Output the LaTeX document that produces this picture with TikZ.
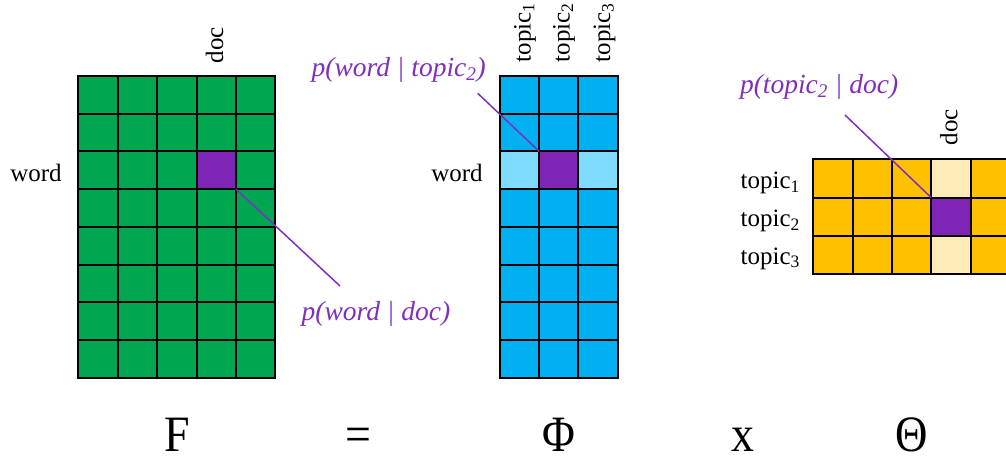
\documentclass[tikz,border=0pt]{standalone}
\usepackage{fontspec}
\usepackage{graphicx}
\setmainfont{Liberation Serif}
\definecolor{gfill}{HTML}{00A650}
\definecolor{bfill}{HTML}{00B0F0}
\definecolor{lbfill}{HTML}{80DCFF}
\definecolor{ofill}{HTML}{FFC000}
\definecolor{lofill}{HTML}{FFEBB8}
\definecolor{pcell}{HTML}{7E25B6}
\definecolor{ptext}{HTML}{7F2FC0}
\begin{document}
\begin{tikzpicture}[x=1pt,y=-1pt,
  cell/.style={minimum width=39.4pt, minimum height=37.7pt, inner sep=0pt, outer sep=0pt},
  ocell/.style={cell, minimum width=39.3pt, minimum height=38.3pt},
  grid line/.style={draw=black, line width=2pt},
  lbl/.style={font=\fontsize{25}{30}\selectfont, inner sep=0pt, outer sep=0pt},
  plbl/.style={font=\fontsize{27.5}{32}\selectfont\itshape, text=ptext, inner sep=0pt, outer sep=0pt},
  big/.style={font=\fontsize{51}{60}\selectfont, inner sep=0pt, outer sep=0pt, anchor=base, text depth=0pt},
  pline/.style={draw=ptext, line width=1.5pt}
]
\useasboundingbox (0,0) rectangle (1006,459);
% F matrix (green)
\foreach \r in {1,...,8}{
  \foreach \c in {1,...,5}{
    \def\cc{gfill}
    \ifnum\r=3 \ifnum\c=4 \def\cc{pcell}\fi\fi
    \node[cell, fill=\cc] (g-\r-\c) at ({78.3+39.4*(\c-0.5)}, {76+37.7*(\r-0.5)}) {};
  }
}
% Phi matrix (blue)
\foreach \r in {1,...,8}{
  \foreach \c in {1,...,3}{
    \def\cc{bfill}
    \ifnum\r=3 \def\cc{lbfill}\ifnum\c=2 \def\cc{pcell}\fi\fi
    \node[cell, minimum width=39.2pt, fill=\cc] (b-\r-\c) at ({500+39.2*(\c-0.5)}, {76+37.7*(\r-0.5)}) {};
  }
}
% Theta matrix (orange)
\foreach \r in {1,...,3}{
  \foreach \c in {1,...,5}{
    \def\cc{ofill}
    \ifnum\c=4 \def\cc{lofill}\ifnum\r=2 \def\cc{pcell}\fi\fi
    \node[ocell, fill=\cc] (o-\r-\c) at ({813.3+39.3*(\c-0.5)}, {159.3+38.3*(\r-0.5)}) {};
  }
}
% grid lines
\foreach \r in {1,...,8}{
  \foreach \c in {1,...,5}{
    \draw[grid line] (g-\r-\c.north west) rectangle (g-\r-\c.south east);
  }
  \foreach \c in {1,...,3}{
    \draw[grid line] (b-\r-\c.north west) rectangle (b-\r-\c.south east);
  }
}
\foreach \r in {1,...,3}{
  \foreach \c in {1,...,5}{
    \draw[grid line] (o-\r-\c.north west) rectangle (o-\r-\c.south east);
  }
}
% axis labels
\node[lbl, rotate=90, anchor=base west] (gdoc) at (223,63) {doc};
\node[lbl, anchor=base] (gword) at (36,181.7) {word};
\node[lbl, anchor=base] (bword) at (457,181.7) {word};
\node[lbl, rotate=90, anchor=base west] (bt1) at (530.7,62) {topic\textsubscript{1}};
\node[lbl, rotate=90, anchor=base west] (bt2) at (569.5,62) {topic\textsubscript{2}};
\node[lbl, rotate=90, anchor=base west] (bt3) at (610,62) {topic\textsubscript{3}};
\node[lbl, rotate=90, anchor=base west] (odoc) at (957.3,145) {doc};
\node[lbl, anchor=base west] (ot1) at (740.7,188.3) {topic\textsubscript{1}};
\node[lbl, anchor=base west] (ot2) at (740.7,226.7) {topic\textsubscript{2}};
\node[lbl, anchor=base west] (ot3) at (740.7,264) {topic\textsubscript{3}};
% probability labels
\node[plbl, anchor=base west] (pwd) at (301.7,320) {p(word | doc)};
\node[plbl, anchor=base west] (pwt) at (311.7,76) {p(word | topic\textsubscript{2})};
\node[plbl, anchor=base west] (ptd) at (740,93.3) {p(topic\textsubscript{2} | doc)};
\coordinate (cwd) at (340,286);
\coordinate (cwt) at (477.7,93.3);
\coordinate (ctd) at (845,115);
\draw[pline] (g-3-4.south east) -- (cwd);
\draw[pline] (b-3-2.north west) -- (cwt);
\draw[pline] (o-2-4.north west) -- (ctd);
% bottom equation
\node[big] (eF) at (177,451) {\scalebox{0.9}[1]{F}};
\node[big] (eEq) at (358,451) {\scalebox{0.9}[1]{=}};
\node[big] (ePhi) at (559,451) {\scalebox{0.88}[1]{Φ}};
\node[big] (eX) at (743,451) {\scalebox{0.9}[1]{x}};
\node[big] (eTheta) at (912,451) {\scalebox{0.88}[1]{Θ}};
\end{tikzpicture}
\end{document}
